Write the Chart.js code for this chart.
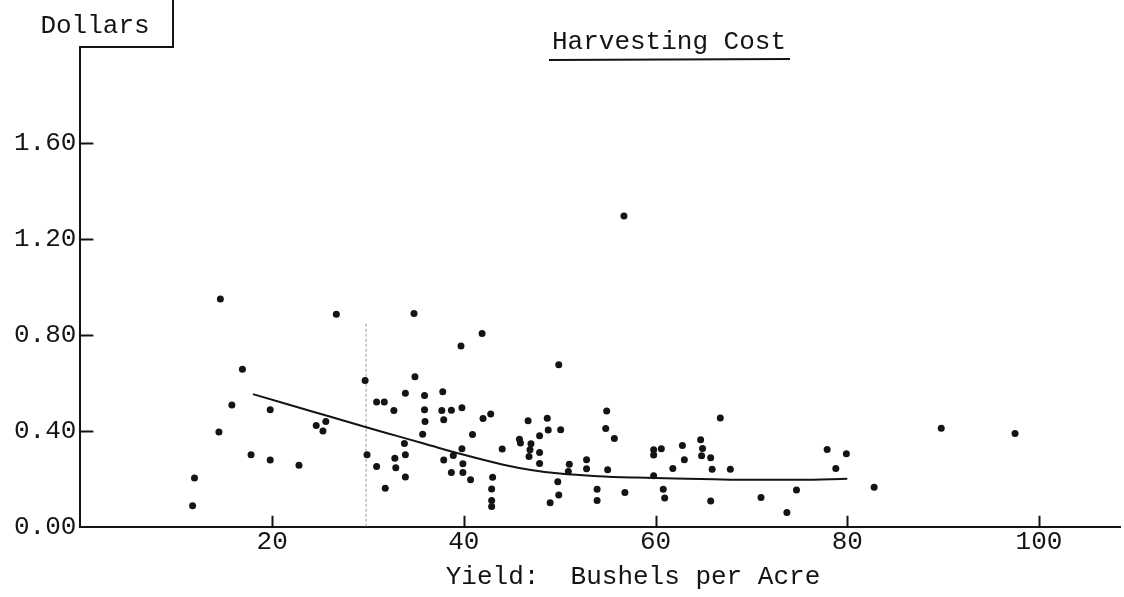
<!DOCTYPE html>
<html>
<head>
<meta charset="utf-8">
<script src="https://cdn.jsdelivr.net/npm/chart.js@4.4.0/dist/chart.umd.min.js"></script>
<style>
  html, body { margin: 0; padding: 0; background: #fff; }
</style>
</head>
<body>
<canvas id="graph" width="1124" height="597"></canvas>
<script>
// harvesting cost per bushel against yield
const yieldX = [14.6, 26.7, 16.9, 29.7, 15.8, 19.8, 30.9, 31.7, 32.7, 14.45, 24.6, 25.6, 25.3, 17.8, 19.8, 22.8, 29.9, 30.9, 32.8, 32.9, 31.8, 11.9, 11.7,
  34.8, 41.9, 39.7, 49.9, 34.9, 33.9, 35.9, 37.8, 35.9, 37.7, 38.7, 39.8, 35.95, 37.9, 42.0, 42.8, 35.7, 40.9, 33.8, 39.8, 33.9, 37.9, 38.9, 39.9, 38.7, 39.9, 40.7, 33.9,
  44.0, 43.0, 42.9, 42.9, 42.9, 46.7, 45.8, 45.9, 47.0, 46.9, 46.8, 47.9, 47.9, 47.9, 48.7, 48.8, 50.1, 51.0, 50.9, 49.8, 49.9, 49.0, 52.8, 52.8, 54.9, 54.8, 55.7, 55.0, 53.9, 53.9, 56.8,
  56.7, 59.8, 59.8, 60.6, 59.8, 60.8, 60.95, 61.8, 62.8, 63.0, 64.7, 64.9, 64.8, 65.75, 65.9, 65.75, 66.75, 67.8, 71.0, 73.7, 74.7, 77.9, 79.9, 78.8, 82.8, 89.8, 97.5];
const costY = [0.95, 0.886, 0.657, 0.61, 0.508, 0.488, 0.52, 0.52, 0.485, 0.395, 0.422, 0.439, 0.399, 0.30, 0.278, 0.257, 0.30, 0.251, 0.286, 0.246, 0.161, 0.203, 0.088,
  0.889, 0.806, 0.754, 0.675, 0.625, 0.557, 0.547, 0.5625, 0.488, 0.485, 0.486, 0.496, 0.439, 0.446, 0.451, 0.47, 0.386, 0.385, 0.347, 0.325, 0.30, 0.278, 0.297, 0.263, 0.226, 0.226, 0.196, 0.208,
  0.324, 0.207, 0.158, 0.11, 0.085, 0.442, 0.365, 0.349, 0.346, 0.321, 0.293, 0.31, 0.38, 0.264, 0.453, 0.404, 0.405, 0.261, 0.23, 0.188, 0.133, 0.10, 0.279, 0.242, 0.483, 0.41, 0.368, 0.238, 0.157, 0.11, 0.143,
  1.296, 0.321, 0.299, 0.325, 0.2125, 0.157, 0.12, 0.243, 0.339, 0.28, 0.3625, 0.326, 0.296, 0.2875, 0.24, 0.108, 0.454, 0.24, 0.122, 0.06, 0.153, 0.322, 0.305, 0.243, 0.165, 0.411, 0.389];

// freehand fitted curve
const curveX = [18, 24, 30, 33, 36, 40, 44, 47, 50, 54, 58, 62, 66, 70, 75, 80];
const curveY = [0.553, 0.483, 0.413, 0.379, 0.345, 0.30, 0.26, 0.237, 0.222, 0.211, 0.205, 0.201, 0.198, 0.196, 0.196, 0.2];

// faint pencil line
const markX = [29.8, 29.8];
const markY = [0, 0.85];

const xTicks = [20, 40, 60, 80, 100];
const yTicks = [0, 0.4, 0.8, 1.2, 1.6];

const FONT = "'Liberation Mono', 'DejaVu Sans Mono', monospace";
const INK = "#141414";

const toPoints = (xs, ys) => xs.map((x, i) => ({ x: x, y: ys[i] }));

const paper = {
  id: "paper",
  beforeDraw(chart) {
    const ctx = chart.ctx;
    ctx.save();
    ctx.fillStyle = "#fff";
    ctx.fillRect(0, 0, chart.width, chart.height);
    ctx.restore();
  }
};

// inward ticks, the "Dollars" box, title and axis caption
const decor = {
  id: "decor",
  afterDraw(chart) {
    const ctx = chart.ctx;
    const area = chart.chartArea;
    const xs = chart.scales.x, ys = chart.scales.y;
    ctx.save();
    ctx.strokeStyle = INK;
    ctx.lineWidth = 2;
    ctx.beginPath();
    xTicks.forEach((v) => {
      const px = Math.round(xs.getPixelForValue(v)) + 0.5;
      ctx.moveTo(px, area.bottom);
      ctx.lineTo(px, area.bottom - 11);
    });
    yTicks.forEach((v) => {
      if (v === 0) return;
      const py = Math.round(ys.getPixelForValue(v)) + 0.5;
      ctx.moveTo(area.left, py);
      ctx.lineTo(area.left + 13, py);
    });
    // box round the unit label
    ctx.moveTo(area.left, area.top);
    ctx.lineTo(173, area.top);
    ctx.lineTo(173, 0);
    ctx.stroke();

    ctx.fillStyle = INK;
    ctx.font = "26px " + FONT;
    ctx.textBaseline = "middle";
    ctx.textAlign = "center";
    ctx.fillText("Dollars", 95, 26);
    ctx.fillText("Harvesting Cost", 669, 42);
    ctx.fillText("Yield:  Bushels per Acre", 633, 577);

    ctx.beginPath();
    ctx.moveTo(549, 60);
    ctx.lineTo(790, 59);
    ctx.stroke();
    ctx.restore();
  }
};

const ctx = document.getElementById("graph").getContext("2d");
const myChart = new Chart(ctx, {
  type: "scatter",
  data: {
    datasets: [
      {
        data: toPoints(yieldX, costY),
        backgroundColor: INK,
        borderWidth: 0,
        pointRadius: 3.5,
        pointHoverRadius: 3.5,
      },
      {
        type: "line",
        data: toPoints(curveX, curveY),
        borderColor: INK,
        borderWidth: 2,
        pointRadius: 0,
        fill: false,
        cubicInterpolationMode: "monotone",
      },
      {
        type: "line",
        data: toPoints(markX, markY),
        borderColor: "#9a9a9a",
        borderWidth: 1,
        borderDash: [3, 2],
        pointRadius: 0,
        fill: false,
      },
    ],
  },
  options: {
    responsive: false,
    animation: false,
    events: [],
    layout: { padding: { top: 47, left: 10, right: 0, bottom: 39 } },
    plugins: {
      legend: { display: false },
      title: { display: false },
      tooltip: { enabled: false },
    },
    scales: {
      x: {
        type: "linear",
        min: 0,
        max: 108.5,
        afterBuildTicks: (scale) => {
          scale.ticks = xTicks.map((v) => ({ value: v }));
        },
        grid: { display: false, drawTicks: false },
        border: { display: true, color: INK, width: 2 },
        ticks: {
          autoSkip: false,
          maxRotation: 0,
          padding: 0,
          color: INK,
          font: { family: FONT, size: 26 },
          callback: (v) => String(v),
        },
      },
      y: {
        type: "linear",
        min: 0,
        max: 2.0,
        afterBuildTicks: (scale) => {
          scale.ticks = yTicks.map((v) => ({ value: v }));
        },
        grid: { display: false, drawTicks: false },
        border: { display: true, color: INK, width: 2 },
        ticks: {
          padding: 4,
          color: INK,
          font: { family: FONT, size: 26 },
          callback: (v) => Number(v).toFixed(2),
        },
      },
    },
  },
  plugins: [paper, decor],
});
</script>
</body>
</html>
